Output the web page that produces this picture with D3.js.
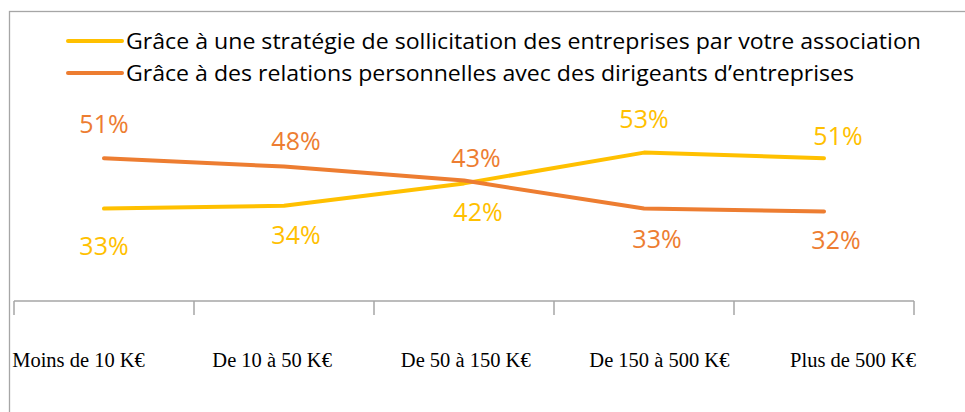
<!DOCTYPE html>
<html>
<head>
<meta charset="utf-8">
<script src="https://cdn.jsdelivr.net/npm/d3@7"></script>
<style>
  body { margin: 0; background: #fff; }
  svg { display: block; }
</style>
</head>
<body>
<script>

// chart data
var categories = ["Moins de 10 K€", "De 10 à 50 K€", "De 50 à 150 K€", "De 150 à 500 K€", "Plus de 500 K€"];
var seriesNames = [
  "Grâce à une stratégie de sollicitation des entreprises par votre association",
  "Grâce à des relations personnelles avec des dirigeants d’entreprises"
];
var strategieValues = [33, 34, 42, 53, 51];
var relationsValues = [51, 48, 43, 33, 32];

// define canvas variables
var width = 965,
    height = 412,
    colors = ["#FFC000", "#ED7D31"];

// label nudges (dx, dy from the point), labels were hand placed in the original
var labelNudge = [
  [[0, 46], [12, 38], [14, 38], [0, -25], [14, -13]],
  [[0, -25], [12, -17], [12, -14], [13, 39], [12, 38]]
];

var series = [
  {name: seriesNames[0], values: strategieValues, color: colors[0]},
  {name: seriesNames[1], values: relationsValues, color: colors[1]}
];

var svg = d3.select("body").append("svg")
    .attr("width", width)
    .attr("height", height);

// outer frame
svg.append("rect")
    .attr("x", 9.5)
    .attr("y", 11.5)
    .attr("width", width + 20)
    .attr("height", height + 20)
    .attr("fill", "none")
    .attr("stroke", "#a6a6a6")
    .attr("stroke-width", 1.3);

// scales
var x = d3.scaleBand().domain(categories).range([14, 914]);
var y = d3.scaleLinear().domain([0, 100]).range([301, 21]);
// tick labels sit on their own spacing
var xLabel = d3.scalePoint().domain(categories).range([78.5, 853]);

// x axis: baseline + tick marks between categories
var axis = svg.append("g").attr("class", "axis");

axis.append("line")
    .attr("x1", x.range()[0])
    .attr("x2", x.range()[1])
    .attr("y1", y(0))
    .attr("y2", y(0))
    .attr("stroke", "#a6a6a6")
    .attr("stroke-width", 1.5);

var tickPos = categories.map(function(c) { return x(c); }).concat([x.range()[1]]);

axis.selectAll(".tick")
    .data(tickPos)
    .enter().append("line")
    .attr("class", "tick")
    .attr("x1", function(d) { return d; })
    .attr("x2", function(d) { return d; })
    .attr("y1", y(0))
    .attr("y2", y(0) + 14)
    .attr("stroke", "#a6a6a6")
    .attr("stroke-width", 1.5);

axis.selectAll(".cat")
    .data(categories)
    .enter().append("text")
    .attr("class", "cat")
    .attr("x", function(d) { return xLabel(d); })
    .attr("y", 367)
    .attr("text-anchor", "middle")
    .style("font-family", "'Liberation Serif', 'DejaVu Serif', serif")
    .style("font-size", "20.5px")
    .attr("fill", "#000")
    .text(function(d) { return d; });

// lines
var line = d3.line()
    .x(function(d, i) { return x(categories[i]) + x.bandwidth() / 2; })
    .y(function(d) { return y(d); });

svg.selectAll(".series")
    .data(series)
    .enter().append("path")
    .attr("class", "series")
    .attr("fill", "none")
    .attr("stroke", function(d) { return d.color; })
    .attr("stroke-width", 4)
    .attr("stroke-linejoin", "round")
    .attr("stroke-linecap", "round")
    .attr("d", function(d) { return line(d.values); });

// data labels
series.forEach(function(s, si) {
  svg.selectAll(".lbl" + si)
      .data(s.values)
      .enter().append("text")
      .attr("class", "lbl" + si)
      .attr("x", function(d, i) { return x(categories[i]) + x.bandwidth() / 2 + labelNudge[si][i][0]; })
      .attr("y", function(d, i) { return y(d) + labelNudge[si][i][1]; })
      .attr("text-anchor", "middle")
      .attr("fill", s.color)
      .style("font-family", "'Open Sans', sans-serif")
      .style("font-size", "25px")
      .text(function(d) { return d + "%"; });
});

// legend
var legend = svg.append("g").attr("class", "legend");
var legendWidths = [795, 728];

var item = legend.selectAll(".item")
    .data(series)
    .enter().append("g")
    .attr("class", "item")
    .attr("transform", function(d, i) { return "translate(0," + (41 + i * 32) + ")"; });

item.append("line")
    .attr("x1", 68)
    .attr("x2", 122)
    .attr("stroke", function(d) { return d.color; })
    .attr("stroke-width", 4)
    .attr("stroke-linecap", "round");

item.append("text")
    .attr("x", 126)
    .attr("y", 7.5)
    .attr("textLength", function(d, i) { return legendWidths[i]; })
    .attr("lengthAdjust", "spacingAndGlyphs")
    .style("font-family", "'Open Sans', sans-serif")
    .style("font-size", "22px")
    .attr("fill", "#000")
    .text(function(d) { return d.name; });

</script>
</body>
</html>
